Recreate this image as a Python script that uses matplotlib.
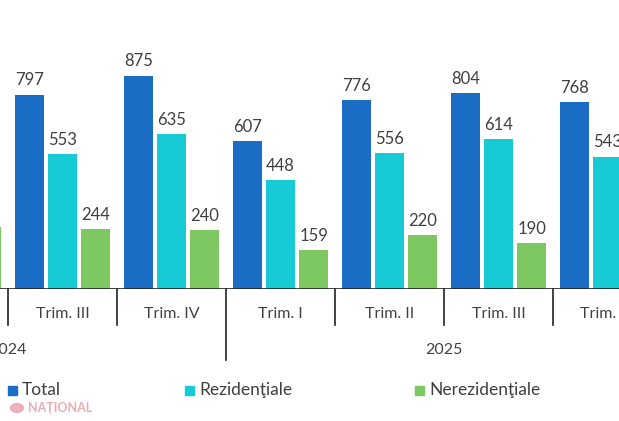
import numpy as np
import matplotlib.pyplot as plt
import matplotlib.transforms as mtransforms

plt.rcParams['font.family'] = ['Lato', 'DejaVu Sans']

# group index -1 = 2024 Trim. II (only its last bar is partly visible)
quarters = ['Trim. II', 'Trim. III', 'Trim. IV', 'Trim. I', 'Trim. II', 'Trim. III', 'Trim. IV']
years = ['2024', '2025']
year_span = [(-2, 2), (2, 6)]
total = [np.nan, 797, 875, 607, 776, 804, 768]
rezidentiale = [np.nan, 553, 635, 448, 556, 614, 543]
nerezidentiale = [253, 244, 240, 159, 220, 190, np.nan]

c_total = '#1a6cc4'
c_rez = '#16cbd6'
c_nerez = '#7ec862'
txt = '#404040'

W, H = 619, 421
fig = plt.figure(figsize=(W / 100, H / 100), dpi=100)
gw = 109.0
x0px = 8.0
base_px = 289.0
scale = 0.244
# group i spans [i, i+1] in data units; group 0 starts at pixel 8
ax = fig.add_axes([0, (H - base_px) / H, 1, base_px / H])
ax.set_xlim(-x0px / gw, (W - x0px) / gw)
ax.set_ylim(0, base_px / scale)
ax.axis('off')

idx = np.arange(len(quarters)) - 1
bw = 0.265
for vals, off, col in [(total, 0.2, c_total), (rezidentiale, 0.5, c_rez), (nerezidentiale, 0.805, c_nerez)]:
    for i, v in zip(idx, vals):
        if np.isnan(v):
            continue
        ax.bar(i + off, v, width=bw, color=col)
        ax.text(i + off, v + 25, f'{v:.0f}', ha='center', va='bottom', fontsize=12, color=txt)

ax.axhline(0, color='#222222', lw=1.2)

tr = mtransforms.blended_transform_factory(ax.transData, fig.transFigure)
def fy(p):
    return (H - p) / H

for i, q in zip(idx, quarters):
    ax.text(i + 0.5, fy(314), q, transform=tr, ha='center', va='center', fontsize=11.5, color=txt)
for b in range(0, 7):
    long = b == 2
    ax.plot([b, b], [fy(base_px), fy(360 if long else 325)], transform=tr,
            color='#222222', lw=1.2, clip_on=False)
for y, (s, e) in zip(years, year_span):
    ax.text((s + e) / 2, fy(350), y, transform=tr, ha='center', va='center', fontsize=11.5, color=txt)

# legend
for xpx, lab, col in [(8, 'Total', c_total), (185, 'Rezidenţiale', c_rez), (415, 'Nerezidenţiale', c_nerez)]:
    fig.patches.append(plt.Rectangle((xpx / W, fy(395)), 9 / W, 9 / H, transform=fig.transFigure,
                                     color=col))
    fig.text((xpx + 14) / W, fy(390), lab, ha='left', va='center', fontsize=12.5, color=txt)

fig.text(28 / W, fy(408), 'NAȚIONAL', ha='left', va='center', fontsize=9, fontweight='bold',
         color='#e8a3ae', alpha=0.9)
fig.patches.append(plt.Circle((17 / W, fy(408)), 6.5 / W, transform=fig.transFigure,
                              color='#e8a3ae', alpha=0.8))

fig.savefig('out.png', dpi=100)
